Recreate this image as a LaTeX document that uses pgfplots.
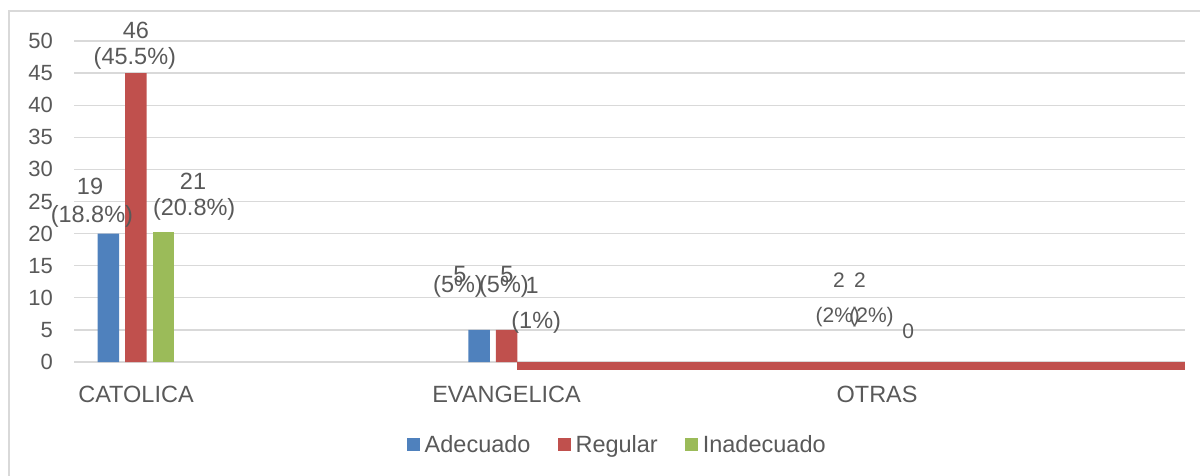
\documentclass[border=0pt]{standalone}
\usepackage{fontspec}
\setmainfont{Liberation Sans}
\usepackage{pgfplots}
\pgfplotsset{compat=1.18}
\definecolor{cA}{HTML}{4F81BD}
\definecolor{cR}{HTML}{C0504D}
\definecolor{cI}{HTML}{9BBB59}
\definecolor{gridc}{HTML}{D9D9D9}
\definecolor{txt}{HTML}{595959}
\tikzset{
  lbl/.style={font=\fontsize{23.5}{28}\selectfont, text=txt, inner sep=0pt},
  lbls/.style={font=\fontsize{21}{25}\selectfont, text=txt, inner sep=0pt},
}
\begin{document}
\begin{tikzpicture}
\useasboundingbox (0pt,0pt) rectangle (1200pt,-475pt);
\begin{scope}
\clip (0pt,0pt) rectangle (1200pt,-475pt);
\draw[gridc, line width=1.5pt] (9pt,-11pt) rectangle (1220pt,-495pt);
\end{scope}
\begin{axis}[
  at={(74pt,-369.7pt)}, anchor=south west,
  scale only axis, width=1111pt, height=328.7pt,
  xmin=-0.1673, xmax=2.831, ymin=-1.2, ymax=50,
  axis line style={draw=none},
  major tick length=0pt,
  ymajorgrids, grid style={gridc, line width=1.3pt},
  xtick={0,1,2}, xticklabels={CATOLICA,EVANGELICA,OTRAS},
  ytick={0,5,...,50},
  /pgf/number format/assume math mode=true,
  yticklabel style={font=\fontsize{22}{26}\selectfont, text=txt, anchor=east, inner sep=0pt, xshift=-21pt},
  xticklabel style={font=\fontsize{23.5}{28}\selectfont, text=txt, anchor=north, inner sep=0pt, yshift=-16pt},
  clip mode=individual,
  legend columns=3,
  legend style={at={(0.488,-0.229)}, anchor=center, draw=none, fill=none,
    font=\fontsize{23.5}{28}\selectfont, text=txt, inner sep=0pt,
    nodes={inner sep=0pt, anchor=west},
    /tikz/every odd column/.append style={column sep=5pt},
    /tikz/every even column/.append style={column sep=27pt}},
]
\addplot[ybar, bar width=21.5pt, bar shift=-27.5pt, fill=cA, draw=none,
  legend image code/.code={\fill[cA] (0pt,-6.5pt) rectangle (13pt,6.5pt);}]
  coordinates {(0,20) (1,5)};
\addlegendentry{Adecuado}
\addplot[ybar, bar width=21.5pt, bar shift=0pt, fill=cR, draw=none,
  legend image code/.code={\fill[cR] (0pt,-6.5pt) rectangle (13pt,6.5pt);}]
  coordinates {(0,45) (1,5)};
\addlegendentry{Regular}
\addplot[ybar, bar width=21.5pt, bar shift=27.5pt, fill=cI, draw=none,
  legend image code/.code={\fill[cI] (0pt,-6.5pt) rectangle (13pt,6.5pt);}]
  coordinates {(0,20.2)};
\addlegendentry{Inadecuado}
% stray red strip along the base
\addplot[sharp plot, fill=cR, draw=none, forget plot]
  coordinates {(1.029,-1.2) (1.029,0) (2.831,0) (2.831,-1.2)} -- cycle;
% data labels
\node[lbl] at (axis cs:-0.124,27.4) {19};
\node[lbl] at (axis cs:-0.119,22.6) {(18.8\%)};
\node[lbl] at (axis cs:0,51.7) {46};
\node[lbl] at (axis cs:-0.003,47.3) {(45.5\%)};
\node[lbl] at (axis cs:0.154,28.2) {21};
\node[lbl] at (axis cs:0.157,23.7) {(20.8\%)};
\node[lbl] at (axis cs:0.874,13.7) {5};
\node[lbl] at (axis cs:0.869,11.8) {(5\%)};
\node[lbl] at (axis cs:1.001,13.7) {5};
\node[lbl] at (axis cs:0.993,11.8) {(5\%)};
\node[lbl] at (axis cs:1.069,12.0) {1};
\node[lbl] at (axis cs:1.080,6.2) {(1\%)};
\node[lbls] at (axis cs:1.897,12.8) {2};
\node[lbls] at (axis cs:1.954,12.8) {2};
\node[lbls] at (axis cs:1.894,7.0) {(2\%)};
\node[lbls] at (axis cs:1.985,7.0) {(2\%)};
\node[lbls] at (axis cs:2.084,4.8) {0};
\end{axis}
\end{tikzpicture}
\end{document}
